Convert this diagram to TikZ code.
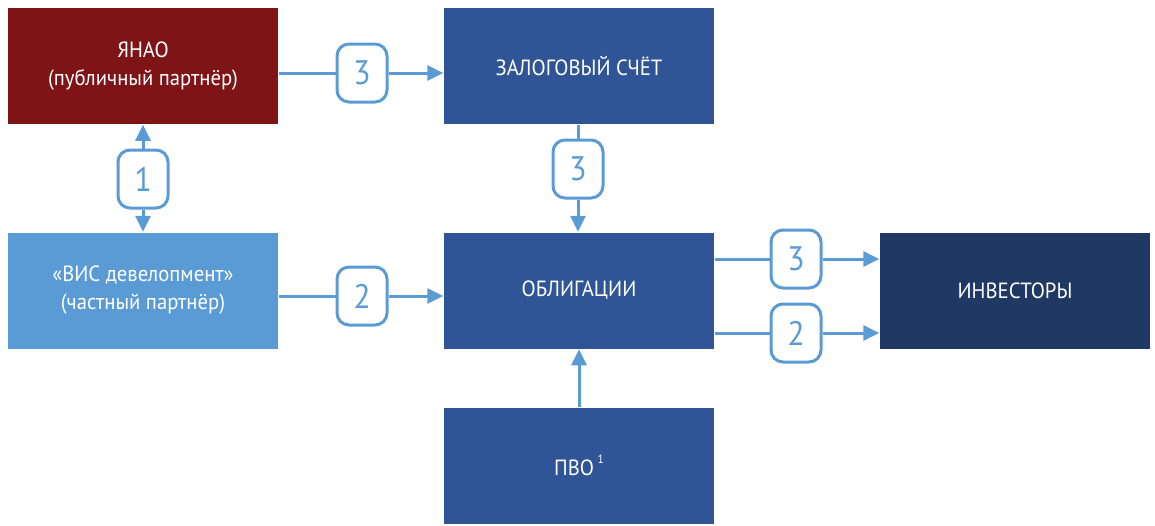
\documentclass[tikz,border=0pt]{standalone}
\usepackage{fontspec}
\setmainfont{PT Sans}[FakeStretch=0.94]
\usetikzlibrary{arrows.meta}

\definecolor{yanaored}{RGB}{127,20,22}
\definecolor{boxblue}{RGB}{47,85,151}
\definecolor{lightblue}{RGB}{91,155,213}
\definecolor{navyblue}{RGB}{32,56,100}

\tikzset{every picture/.style={line width=0.75pt}}
\tikzset{
  block/.style={minimum width=135pt,minimum height=58pt,inner sep=0pt,align=center,
    text=white,font=\fontsize{11}{14}\selectfont},
  badge/.style={draw=lightblue,fill=white,line width=1.5pt,rounded corners=6pt,
    minimum width=25pt,minimum height=29pt,inner sep=0pt,text=lightblue,
    font=\fontsize{17}{17}\selectfont},
  link/.style={draw=lightblue,line width=1.5pt},
  linkarrow/.style={link,-{Triangle[length=8pt,width=7.5pt]}}
}

\begin{document}
\begin{tikzpicture}[x=0.5pt,y=0.5pt,yscale=-1,xscale=1]
%set diagram size 1155 x 525
\path (0,0) rectangle (1155,525);

%Shape: Rectangles
\node [block,fill=yanaored] (yanao) at (143,66) {ЯНАО\\(публичный партнёр)};
\node [block,fill=boxblue] (zalog) at (579,66) {ЗАЛОГОВЫЙ СЧЁТ};
\node [block,fill=lightblue] (vis) at (143,290.5) {«ВИС девелопмент»\\(частный партнёр)};
\node [block,fill=boxblue] (obl) at (579,290.5) {ОБЛИГАЦИИ};
\node [block,fill=navyblue] (inv) at (1015,290.5) {ИНВЕСТОРЫ};
\node [block,fill=boxblue] (pvo) at (579,465.5) {ПВО\,\raisebox{1.1ex}{\fontsize{6}{6}\selectfont 1}};

%Shape: Badges
\node [badge] (bYZ) at (362,73) {3};
\node [badge] (bYV) at (143,179) {1};
\node [badge] (bZO) at (578,169) {3};
\node [badge] (bVO) at (362,296) {2};
\node [badge] (bOI3) at (796,259) {3};
\node [badge] (bOI2) at (796,333) {2};

%Connectors
\draw [link] (yanao.east |- bYZ) -- (bYZ);
\draw [linkarrow] (bYZ) -- (zalog.west |- bYZ);
\draw [linkarrow] (bYV) -- (yanao);
\draw [linkarrow] (bYV) -- (vis);
\draw [link] (zalog.south -| bZO) -- (bZO);
\draw [linkarrow] (bZO) -- (obl.north -| bZO);
\draw [link] (vis.east |- bVO) -- (bVO);
\draw [linkarrow] (bVO) -- (obl.west |- bVO);
\draw [link] (obl.east |- bOI3) -- (bOI3);
\draw [linkarrow] (bOI3) -- (inv.west |- bOI3);
\draw [link] (obl.east |- bOI2) -- (bOI2);
\draw [linkarrow] (bOI2) -- (inv.west |- bOI2);
\draw [linkarrow] (pvo) -- (obl);

\end{tikzpicture}
\end{document}
